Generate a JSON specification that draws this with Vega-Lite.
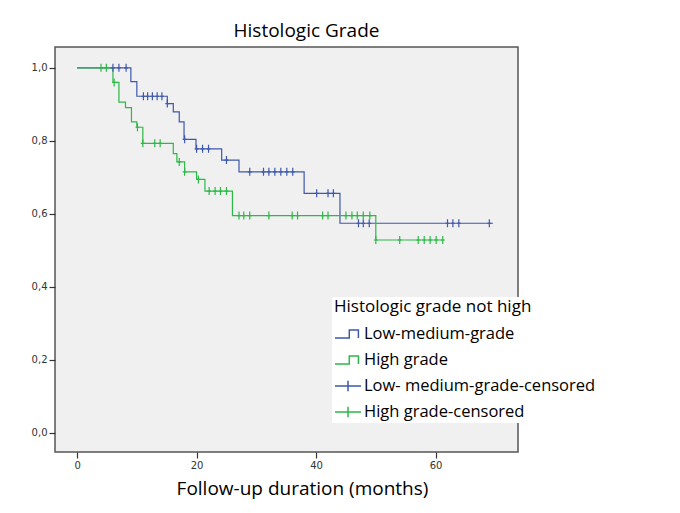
{
  "$schema": "https://vega.github.io/schema/vega-lite/v6.json",
  "width": 463,
  "height": 405,
  "autosize": {"type": "none"},
  "padding": {"left": 55, "top": 47, "right": 162, "bottom": 61},
  "background": "white",
  "config": {"view": {"fill": "#f0f0f0", "stroke": "#555555", "strokeWidth": 1.5}},
  "title": {"text": "Histologic Grade", "font": "Open Sans", "fontSize": 19, "fontWeight": "normal", "color": "black", "frame": "group", "anchor": "middle", "dx": 20, "offset": -9, "baseline": "alphabetic"},
  "datasets": {
    "curve": [
      {"group": "Low-medium-grade", "t": 0, "s": 1.0},
      {"group": "Low-medium-grade", "t": 9.0, "s": 0.962},
      {"group": "Low-medium-grade", "t": 10.0, "s": 0.922},
      {"group": "Low-medium-grade", "t": 15.1, "s": 0.902},
      {"group": "Low-medium-grade", "t": 16.1, "s": 0.879},
      {"group": "Low-medium-grade", "t": 17.1, "s": 0.852},
      {"group": "Low-medium-grade", "t": 17.9, "s": 0.804},
      {"group": "Low-medium-grade", "t": 19.9, "s": 0.778},
      {"group": "Low-medium-grade", "t": 24.2, "s": 0.747},
      {"group": "Low-medium-grade", "t": 27.1, "s": 0.715},
      {"group": "Low-medium-grade", "t": 38.0, "s": 0.656},
      {"group": "Low-medium-grade", "t": 44.0, "s": 0.574},
      {"group": "Low-medium-grade", "t": 69.6, "s": 0.574},
      {"group": "High grade", "t": 0, "s": 1.0},
      {"group": "High grade", "t": 6.0, "s": 0.96},
      {"group": "High grade", "t": 7.0, "s": 0.906},
      {"group": "High grade", "t": 8.1, "s": 0.891},
      {"group": "High grade", "t": 9.1, "s": 0.852},
      {"group": "High grade", "t": 10.0, "s": 0.837},
      {"group": "High grade", "t": 11.0, "s": 0.793},
      {"group": "High grade", "t": 16.1, "s": 0.765},
      {"group": "High grade", "t": 16.7, "s": 0.742},
      {"group": "High grade", "t": 18.0, "s": 0.715},
      {"group": "High grade", "t": 20.0, "s": 0.694},
      {"group": "High grade", "t": 21.4, "s": 0.662},
      {"group": "High grade", "t": 26.0, "s": 0.595},
      {"group": "High grade", "t": 50.0, "s": 0.528},
      {"group": "High grade", "t": 61.4, "s": 0.528}
    ],
    "censor": [
      {"group": "Low- medium-grade-censored", "t": 6.0, "s": 1.0},
      {"group": "Low- medium-grade-censored", "t": 7.0, "s": 1.0},
      {"group": "Low- medium-grade-censored", "t": 8.2, "s": 1.0},
      {"group": "Low- medium-grade-censored", "t": 11.1, "s": 0.922},
      {"group": "Low- medium-grade-censored", "t": 11.8, "s": 0.922},
      {"group": "Low- medium-grade-censored", "t": 12.6, "s": 0.922},
      {"group": "Low- medium-grade-censored", "t": 13.4, "s": 0.922},
      {"group": "Low- medium-grade-censored", "t": 14.2, "s": 0.922},
      {"group": "Low- medium-grade-censored", "t": 15.1, "s": 0.902},
      {"group": "Low- medium-grade-censored", "t": 18.0, "s": 0.804},
      {"group": "Low- medium-grade-censored", "t": 20.0, "s": 0.778},
      {"group": "Low- medium-grade-censored", "t": 21.0, "s": 0.778},
      {"group": "Low- medium-grade-censored", "t": 22.0, "s": 0.778},
      {"group": "Low- medium-grade-censored", "t": 25.0, "s": 0.747},
      {"group": "Low- medium-grade-censored", "t": 28.9, "s": 0.715},
      {"group": "Low- medium-grade-censored", "t": 31.2, "s": 0.715},
      {"group": "Low- medium-grade-censored", "t": 32.1, "s": 0.715},
      {"group": "Low- medium-grade-censored", "t": 33.1, "s": 0.715},
      {"group": "Low- medium-grade-censored", "t": 34.1, "s": 0.715},
      {"group": "Low- medium-grade-censored", "t": 35.1, "s": 0.715},
      {"group": "Low- medium-grade-censored", "t": 36.1, "s": 0.715},
      {"group": "Low- medium-grade-censored", "t": 40.1, "s": 0.656},
      {"group": "Low- medium-grade-censored", "t": 42.0, "s": 0.656},
      {"group": "Low- medium-grade-censored", "t": 42.9, "s": 0.656},
      {"group": "Low- medium-grade-censored", "t": 47.1, "s": 0.574},
      {"group": "Low- medium-grade-censored", "t": 47.9, "s": 0.574},
      {"group": "Low- medium-grade-censored", "t": 48.9, "s": 0.574},
      {"group": "Low- medium-grade-censored", "t": 62.0, "s": 0.574},
      {"group": "Low- medium-grade-censored", "t": 62.9, "s": 0.574},
      {"group": "Low- medium-grade-censored", "t": 63.9, "s": 0.574},
      {"group": "Low- medium-grade-censored", "t": 69.0, "s": 0.574},
      {"group": "High grade-censored", "t": 4.0, "s": 1.0},
      {"group": "High grade-censored", "t": 4.9, "s": 1.0},
      {"group": "High grade-censored", "t": 6.2, "s": 0.96},
      {"group": "High grade-censored", "t": 10.1, "s": 0.837},
      {"group": "High grade-censored", "t": 11.0, "s": 0.793},
      {"group": "High grade-censored", "t": 13.0, "s": 0.793},
      {"group": "High grade-censored", "t": 13.9, "s": 0.793},
      {"group": "High grade-censored", "t": 17.1, "s": 0.742},
      {"group": "High grade-censored", "t": 18.0, "s": 0.715},
      {"group": "High grade-censored", "t": 20.3, "s": 0.694},
      {"group": "High grade-censored", "t": 22.1, "s": 0.662},
      {"group": "High grade-censored", "t": 23.1, "s": 0.662},
      {"group": "High grade-censored", "t": 24.0, "s": 0.662},
      {"group": "High grade-censored", "t": 25.0, "s": 0.662},
      {"group": "High grade-censored", "t": 27.1, "s": 0.595},
      {"group": "High grade-censored", "t": 27.9, "s": 0.595},
      {"group": "High grade-censored", "t": 28.9, "s": 0.595},
      {"group": "High grade-censored", "t": 32.1, "s": 0.595},
      {"group": "High grade-censored", "t": 36.0, "s": 0.595},
      {"group": "High grade-censored", "t": 36.9, "s": 0.595},
      {"group": "High grade-censored", "t": 41.1, "s": 0.595},
      {"group": "High grade-censored", "t": 42.0, "s": 0.595},
      {"group": "High grade-censored", "t": 45.0, "s": 0.595},
      {"group": "High grade-censored", "t": 46.0, "s": 0.595},
      {"group": "High grade-censored", "t": 46.9, "s": 0.595},
      {"group": "High grade-censored", "t": 47.9, "s": 0.595},
      {"group": "High grade-censored", "t": 49.0, "s": 0.595},
      {"group": "High grade-censored", "t": 50.0, "s": 0.528},
      {"group": "High grade-censored", "t": 54.0, "s": 0.528},
      {"group": "High grade-censored", "t": 57.1, "s": 0.528},
      {"group": "High grade-censored", "t": 58.1, "s": 0.528},
      {"group": "High grade-censored", "t": 59.1, "s": 0.528},
      {"group": "High grade-censored", "t": 60.1, "s": 0.528},
      {"group": "High grade-censored", "t": 61.2, "s": 0.528}
    ]
  },
  "layer": [
    {
      "data": {"name": "curve"},
      "mark": {"type": "line", "interpolate": "step-after", "strokeWidth": 1.2},
      "encoding": {
        "x": {
          "field": "t", "type": "quantitative",
          "scale": {"domain": [-3.7, 73.8], "nice": false, "zero": false},
          "axis": {
            "values": [0, 20, 40, 60], "grid": false, "domain": false,
            "tickSize": 6, "tickColor": "#333333", "tickWidth": 1.2,
            "labelFont": "DejaVu Sans", "labelFontSize": 10, "labelColor": "#333333", "labelPadding": 2,
            "title": "Follow-up duration (months)", "titleFont": "Open Sans", "titleFontSize": 19,
            "titleFontWeight": "normal", "titleColor": "black",
            "titleX": 247, "titleY": 42, "titleBaseline": "alphabetic", "titleAlign": "center"
          }
        },
        "y": {
          "field": "s", "type": "quantitative",
          "scale": {"domain": [-0.053, 1.057], "nice": false, "zero": false},
          "axis": {
            "values": [0, 0.2, 0.4, 0.6, 0.8, 1.0], "grid": false, "domain": false,
            "tickSize": 6, "tickColor": "#333333", "tickWidth": 1.2,
            "labelFont": "DejaVu Sans", "labelFontSize": 10, "labelColor": "#333333", "labelPadding": 2,
            "labelExpr": "replace(format(datum.value, '.1f'), '.', ',')",
            "title": null
          }
        },
        "color": {
          "field": "group", "type": "nominal",
          "scale": {"domain": ["Low-medium-grade", "High grade"], "range": ["#3e58ac", "#2eb848"]},
          "legend": {
            "orient": "none", "legendX": 277, "legendY": 250,
            "title": "Histologic grade not high", "titleFont": "Open Sans", "titleFontSize": 17,
            "titleFontWeight": "normal", "titleColor": "black", "titlePadding": 4, "titleLimit": 0,
            "labelFont": "Open Sans", "labelFontSize": 16.5, "labelColor": "black", "labelOffset": 2, "labelLimit": 0,
            "symbolType": "M-1,0.3H0.1V-0.3H0.8V0.3", "symbolSize": 676, "symbolStrokeWidth": 1.5,
            "rowPadding": 3, "fillColor": "white", "padding": 2
          }
        }
      }
    },
    {
      "data": {"name": "censor"},
      "mark": {"type": "point", "shape": "M-0.5,0H0.5M0,-1V1", "size": 64, "filled": false, "strokeWidth": 1.2, "opacity": 1},
      "encoding": {
        "x": {"field": "t", "type": "quantitative"},
        "y": {"field": "s", "type": "quantitative"},
        "stroke": {
          "field": "group", "type": "nominal",
          "scale": {"domain": ["Low- medium-grade-censored", "High grade-censored"], "range": ["#3e58ac", "#2eb848"]},
          "legend": {
            "orient": "none", "legendX": 277, "legendY": 323,
            "title": null,
            "labelFont": "Open Sans", "labelFontSize": 16.5, "labelColor": "black", "labelOffset": 2, "labelLimit": 0,
            "symbolType": "M-1,0H1M0,-0.4V0.4", "symbolSize": 676, "symbolStrokeWidth": 1.5,
            "rowPadding": 3, "fillColor": "white", "padding": 2
          }
        }
      }
    }
  ]
}
